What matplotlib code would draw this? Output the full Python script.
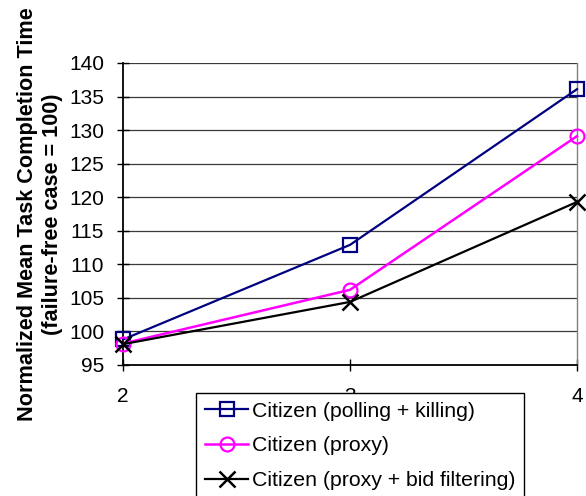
#plot.py

import matplotlib
matplotlib.use("Agg")
import matplotlib.pyplot as plt

plt.rcParams['font.family'] = ['Liberation Sans', 'DejaVu Sans']

x_values = [2, 3, 4]
polling_killing = [98.8, 112.9, 136.1]
proxy = [98.2, 106.2, 129.1]
proxy_bid = [98.1, 104.4, 119.3]
labels = ["Citizen (polling + killing)", "Citizen (proxy)", "Citizen (proxy + bid filtering)"]
y_ticks = [95, 100, 105, 110, 115, 120, 125, 130, 135, 140]

fig = plt.figure(figsize=(5.86, 4.96), dpi=100)
ax = fig.add_axes([123/586, 1-365/496, (577-123)/586, (365-63)/496])

# grid lines
for t in y_ticks[1:]:
    ax.axhline(t, color="#3a3a3a", lw=0.9, zorder=1)

ax.plot(x_values, polling_killing, color="#000080", lw=1.6, marker="s", markersize=10,
        markerfacecolor="none", markeredgecolor="#000080", markeredgewidth=1.6,
        label=labels[0], zorder=3, clip_on=False)
ax.plot(x_values, proxy, color="#ff00ff", lw=1.8, marker="o", markersize=10,
        markerfacecolor="none", markeredgecolor="#ff00ff", markeredgewidth=1.6,
        label=labels[1], zorder=3, clip_on=False)
ax.plot(x_values, proxy_bid, color="black", lw=1.6, marker="x", markersize=11,
        markeredgewidth=1.8, label=labels[2], zorder=4, clip_on=False)

ax.set_xlim(2, 4)
ax.set_ylim(95, 140)
ax.set_xticks(x_values)
ax.set_yticks(y_ticks)
ax.tick_params(axis="both", direction="inout", length=9, width=1, labelsize=15, colors="black")
ax.tick_params(axis="x", pad=11)
ax.tick_params(axis="y", pad=9)

ax.spines["left"].set_linewidth(1.3)
ax.spines["bottom"].set_linewidth(1.3)
ax.spines["top"].set_visible(False)
ax.spines["right"].set_color("#808080")
ax.spines["right"].set_linewidth(1.0)

fig.text(40/586, 1-214/496, "Normalized Mean Task Completion Time\n(failure-free case = 100)",
         rotation=90, ha="center", va="center", fontsize=15.6, fontweight="bold",
         multialignment="center", linespacing=1.3)

leg = fig.legend(loc="upper left", bbox_to_anchor=(196/586, 1-393/496), borderaxespad=0,
                 fontsize=15.3, numpoints=1, handlelength=2.05, handletextpad=0.15,
                 borderpad=0.42, labelspacing=0.73, fancybox=False, framealpha=1,
                 edgecolor="black")
leg.get_frame().set_linewidth(1.0)
leg.set_zorder(10)

fig.savefig("out.png", dpi=100)
